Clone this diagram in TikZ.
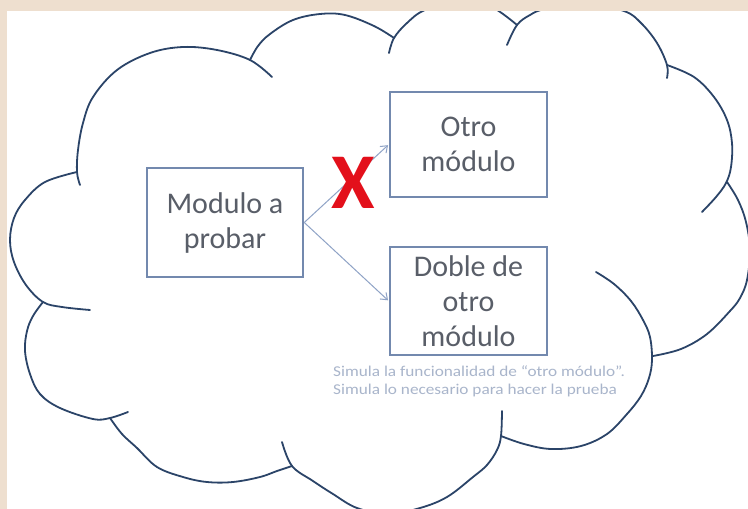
\documentclass[tikz,border=0pt]{standalone}
\usepackage{fontspec}
\usepackage{graphicx}
\setmainfont{Carlito}
\usetikzlibrary{arrows.meta}
\definecolor{bgbeige}{HTML}{EEDFCF}
\definecolor{cloudline}{HTML}{2B4468}
\definecolor{boxline}{HTML}{7389AE}
\definecolor{boxtext}{HTML}{595E68}
\definecolor{arrowc}{HTML}{8FA3C6}
\definecolor{xred}{HTML}{E3101B}
\definecolor{notetext}{HTML}{A9B5CB}
\begin{document}
\begin{tikzpicture}[x=1pt,y=-1pt,
  modbox/.style={draw=boxline, line width=2.5pt, fill=white, inner sep=0pt, align=center,
    text=boxtext, font=\fontsize{30}{35}\selectfont},
  cloudarc/.style={draw=cloudline, line width=1.8pt, line cap=round, line join=round},
  link/.style={draw=arrowc, line width=1pt, shorten >=1pt, -{Straight Barb[length=6pt,width=9pt]}}]
\useasboundingbox (0,0) rectangle (748,509);
\fill[bgbeige] (0,0) rectangle (748,509);
\fill[white] (7,11) rectangle (748,509);
\begin{scope}
\clip (7,11) rectangle (748,509);
\draw[cloudarc] plot[smooth, tension=0.6] coordinates {(90,310) (62,307) (43,302) (26,285) (14,262) (10,240) (14,218) (25,200) (45,182) (77,172)};
\draw[cloudarc] plot[smooth, tension=0.6] coordinates {(80,185) (77,172) (78,150) (83,123) (93,97) (117,70) (150,53) (183,47) (217,50) (250,60) (272,77)};
\draw[cloudarc] plot[smooth, tension=0.6] coordinates {(250,60) (258,46) (270,34) (293,20) (320,14) (345,15) (374,26) (394,38)};
\draw[cloudarc] plot[smooth, tension=0.6] coordinates {(389,53) (394,38) (407,23) (425,10) (460,1) (490,6) (517,25)};
\draw[cloudarc] plot[smooth, tension=0.6] coordinates {(507,45) (517,25) (530,15) (545,9) (585,3) (624,11) (641,23) (657,43) (667,65) (667,78)};
\draw[cloudarc] plot[smooth, tension=0.6] coordinates {(667,65) (694,77) (714,97) (727,120) (732,143) (731,167) (726,183) (716,197) (702,212)};
\draw[cloudarc] plot[smooth, tension=0.6] coordinates {(727,182) (738,200) (746,222) (750,250) (747,280) (740,298) (730,311) (707,334) (681,349) (653,356)};
\draw[cloudarc] plot[smooth, tension=0.6] coordinates {(596,272) (614,284) (631,301) (643,320) (650,337) (652,360) (649,378) (641,396) (627,414) (607,434) (581,446) (551,449) (524,444) (501,436)};
\draw[cloudarc] plot[smooth, tension=0.6] coordinates {(502,411) (501,436) (497,450) (487,465) (473,477) (447,497) (420,508) (388,514) (357,508) (333,494) (313,481) (292,466) (282,442)};
\draw[cloudarc] plot[smooth, tension=0.6] coordinates {(292,466) (277,471) (260,477) (233,482) (207,482) (183,477) (157,467) (137,448) (122,434) (110,418)};
\draw[cloudarc] plot[smooth, tension=0.6] coordinates {(128,412) (110,418) (93,419) (60,408) (40,394) (30,374) (25,351) (27,331) (33,316) (43,302)};
\end{scope}
\node[modbox, minimum width=156pt, minimum height=109pt] (mod) at (225,222.5) {Modulo a\\probar};
\node[modbox, minimum width=157pt, minimum height=105pt] (otro) at (468.5,144.5) {Otro\\módulo};
\node[modbox, minimum width=157pt, minimum height=108pt] (doble) at (468.5,301) {Doble de\\otro\\módulo};
\draw[link] (mod.east) -- (otro.west);
\draw[link] (mod.east) -- (doble.west);
\node[text=xred, font=\fontsize{79}{79}\selectfont\bfseries, inner sep=0pt] (cross) at (353,183) {X};
\node[anchor=west, text=notetext, align=left, font=\fontsize{15}{18}\selectfont, inner sep=0pt] (note) at (333,381)
  {\scalebox{1.15}[1]{Simula la funcionalidad de “otro módulo”.}\\\scalebox{1.15}[1]{Simula lo necesario para hacer la prueba}};
\end{tikzpicture}
\end{document}
